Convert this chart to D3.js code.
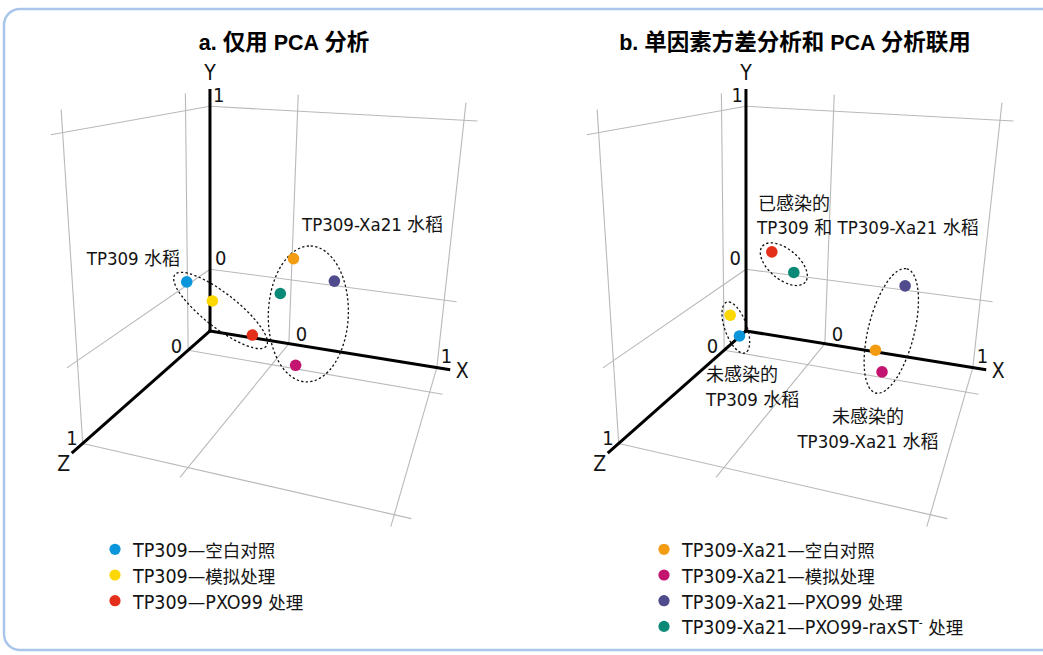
<!DOCTYPE html>
<html>
<head>
<meta charset="utf-8">
<script src="https://cdn.jsdelivr.net/npm/d3@7"></script>
<style>
  body { margin: 0; background: #fff; }
  svg { display: block; }
</style>
</head>
<body>
<script>
// seven samples, same order in both panels
const seriesNames = [
  "TP309—空白对照", "TP309—模拟处理", "TP309—PXO99 处理",
  "TP309-Xa21—空白对照", "TP309-Xa21—模拟处理", "TP309-Xa21—PXO99 处理",
  "TP309-Xa21—PXO99-raxST⁻ 处理"
];
const seriesColors = ["#0b96dc", "#fdd700", "#e42f1b", "#f39c11", "#c31470", "#4f4b8d", "#0a8a76"];

// a. PCA only  (x, y, z scores)
const pcaX = [-0.475, -0.252, -0.091, 0.268, 0.376, 0.466, 0.241];
const pcaY = [0.102, 0.058, -0.202, 0.381, -0.064, 0.256, 0.237];
const pcaZ = [0.2, 0.3, 0.1, 0.4, 0.6, 0.3, 0.5];

// b. ANOVA + PCA
const anovaX = [-0.253, -0.252, -0.158, 0.545, 0.640, 0.634, 0.025];
const anovaY = [-0.098, 0.059, 0.308, -0.055, -0.054, 0.216, 0.249];
const anovaZ = [0.4, 0.5, 0.2, 0.4, 0.6, 0.2, 0.3];

const tickValues = [0, 1];
const titles = ["a. 仅用 PCA 分析", "b. 单因素方差分析和 PCA 分析联用"];

// groups circled in each panel
const pcaGroups = [[0, 1, 2], [3, 4, 5, 6]];
const anovaGroups = [[2, 6], [0, 1], [3, 4, 5]];

const W = 1043, H = 655;
const latinFont = "'Liberation Sans Narrow','Arial Narrow','DejaVu Sans Condensed',sans-serif";
const cjkFont = "'Noto Sans CJK SC',sans-serif";
const titleFont = "'Liberation Sans',Arial,sans-serif";
const ink = "#141414";

const svg = d3.select("body").append("svg")
  .attr("width", W)
  .attr("height", H);

svg.append("rect")
  .attr("x", 4).attr("y", 9)
  .attr("width", 1100).attr("height", 641)
  .attr("rx", 16)
  .attr("fill", "none")
  .attr("stroke", "#a9c5ea")
  .attr("stroke-width", 2.5);

// perspective camera
const rad = Math.PI / 180;
const cam = { f: 713, cx: 263, cy: 280, yaw: 19.1, pitch: 18.4, roll: -1.4, corner: [-0.3433, 0.3304, 4.621] };
const ya = cam.yaw * rad, pe = cam.pitch * rad, ro = cam.roll * rad;
const R0 = [Math.cos(ya), 0, -Math.sin(ya)];
const D0 = [Math.sin(ya) * Math.sin(pe), -Math.cos(pe), Math.cos(ya) * Math.sin(pe)];
const F0 = [-Math.sin(ya) * Math.cos(pe), -Math.sin(pe), -Math.cos(ya) * Math.cos(pe)];
const camRight = R0.map((v, i) => Math.cos(ro) * v + Math.sin(ro) * D0[i]);
const camDown = R0.map((v, i) => -Math.sin(ro) * v + Math.cos(ro) * D0[i]);
const dot3 = (u, v) => u[0] * v[0] + u[1] * v[1] + u[2] * v[2];

const lo = { x: -0.59, y: -0.42, z: -0.29 };
const hi = { x: 1.075, y: 1.09, z: 1.07 };

const xs = d3.scaleLinear().domain([lo.x, 1]).range([0, 1.444]);
const ys = d3.scaleLinear().domain([lo.y, 1]).range([0, 1.42]);
const zs = d3.scaleLinear().domain([lo.z, 1]).range([0, 1.4705]);

function project(x, y, z) {
  const p = [xs(x), ys(y), zs(z)];
  const cx = cam.corner[0] + dot3(camRight, p);
  const cy = cam.corner[1] + dot3(camDown, p);
  const cz = cam.corner[2] + dot3(F0, p);
  return [cam.cx + cam.f * cx / cz, cam.cy + cam.f * cy / cz];
}

// mixed latin / chinese text
function rich(sel, str, latinSize, cjkSize, fam) {
  const parts = str.match(/[\u2E80-\u9FFF]+|⁻|[^\u2E80-\u9FFF⁻]+/g);
  let raised = false;
  parts.forEach(p => {
    const t = sel.append("tspan");
    if (raised) { t.attr("dy", 7); raised = false; }
    if (p === "⁻") {
      t.text("-").attr("dy", -7).style("font-family", latinFont).style("font-size", "12px");
      raised = true;
    } else if (/[\u2E80-\u9FFF]/.test(p)) {
      t.text(p).style("font-family", cjkFont).style("font-size", cjkSize + "px");
    } else {
      t.text(p).style("font-family", fam || latinFont).style("font-size", latinSize + "px");
    }
  });
}

function gridSegments() {
  const segs = [];
  tickValues.forEach(t => {
    // back wall
    segs.push([[lo.x, t, lo.z], [hi.x, t, lo.z]]);
    segs.push([[t, lo.y, lo.z], [t, hi.y, lo.z]]);
    // left wall
    segs.push([[lo.x, t, lo.z], [lo.x, t, hi.z]]);
    segs.push([[lo.x, lo.y, t], [lo.x, hi.y, t]]);
    // floor
    segs.push([[lo.x, lo.y, t], [hi.x, lo.y, t]]);
    segs.push([[t, lo.y, lo.z], [t, lo.y, hi.z]]);
  });
  return segs;
}

function drawPanel(g, X, Y, Z, groups, ellipses, tickSide) {
  // grid
  g.selectAll(".grid")
    .data(gridSegments())
    .enter().append("line")
    .attr("class", "grid")
    .attr("x1", d => project(...d[0])[0])
    .attr("y1", d => project(...d[0])[1])
    .attr("x2", d => project(...d[1])[0])
    .attr("y2", d => project(...d[1])[1])
    .attr("stroke", "#b9b9b9")
    .attr("stroke-width", 1.1);

  // axes
  const origin = [lo.x, lo.y, lo.z];
  const axes = [
    { name: "X", end: [hi.x, lo.y, lo.z], dx: 7, dy: 8, anchor: "start" },
    { name: "Y", end: [lo.x, hi.y, lo.z], dx: 0, dy: -10, anchor: "middle" },
    { name: "Z", end: [lo.x, lo.y, hi.z], dx: -9, dy: 19, anchor: "middle" }
  ];
  axes.forEach(a => {
    const p0 = project(...origin), p1 = project(...a.end);
    g.append("line")
      .attr("x1", p0[0]).attr("y1", p0[1])
      .attr("x2", p1[0]).attr("y2", p1[1])
      .attr("stroke", "#000")
      .attr("stroke-width", 3)
      .attr("stroke-linecap", "square");
    g.append("text")
      .attr("x", p1[0] + a.dx).attr("y", p1[1] + a.dy)
      .attr("text-anchor", a.anchor)
      .attr("fill", ink)
      .style("font-family", latinFont).style("font-size", "21px")
      .text(a.name);
  });

  // tick labels
  tickValues.forEach((t, i) => {
    const px = project(t, lo.y, lo.z);
    g.append("text")
      .attr("x", px[0] + (i ? 4 : 7)).attr("y", px[1] - (i ? 5 : 3))
      .attr("fill", ink)
      .style("font-family", latinFont).style("font-size", "20px")
      .text(t);
    const pz = project(lo.x, lo.y, t);
    g.append("text")
      .attr("x", pz[0] - (i ? 5 : 6)).attr("y", pz[1] + (i ? 2 : 3))
      .attr("text-anchor", "end")
      .attr("fill", ink)
      .style("font-family", latinFont).style("font-size", "20px")
      .text(t);
    const py = project(lo.x, t, lo.z);
    g.append("text")
      .attr("x", py[0] + tickSide * (i ? 3 : 5)).attr("y", py[1] - 4)
      .attr("text-anchor", tickSide > 0 ? "start" : "end")
      .attr("fill", ink)
      .style("font-family", latinFont).style("font-size", "20px")
      .text(t);
  });

  // ellipses round the groups
  groups.forEach((m, gi) => {
    const pts = m.map(i => project(X[i], Y[i], Z[i]));
    const ex = d3.extent(pts, p => p[0]), ey = d3.extent(pts, p => p[1]);
    const e = ellipses[gi];
    g.append("ellipse")
      .attr("transform", `translate(${(ex[0] + ex[1]) / 2 + 1},${(ey[0] + ey[1]) / 2 + 2}) rotate(${e.angle})`)
      .attr("rx", e.a).attr("ry", e.b)
      .attr("fill", "none")
      .attr("stroke", "#111")
      .attr("stroke-width", 1.3)
      .attr("stroke-dasharray", "2.3,2.3");
  });

  // points
  g.selectAll(".pt")
    .data(X.map((x, i) => ({ x: x, y: Y[i], z: Z[i], c: seriesColors[i] })))
    .enter().append("circle")
    .attr("class", "pt")
    .attr("cx", d => project(d.x, d.y, d.z)[0])
    .attr("cy", d => project(d.x, d.y, d.z)[1])
    .attr("r", 5.8)
    .attr("fill", d => d.c);
}

const panelA = svg.append("g");
const panelB = svg.append("g").attr("transform", "translate(536,0)");

drawPanel(panelA, pcaX, pcaY, pcaZ, pcaGroups,
  [{ a: 58, b: 17, angle: 38 }, { a: 68, b: 40, angle: -88 }], 1);
drawPanel(panelB, anovaX, anovaY, anovaZ, anovaGroups,
  [{ a: 28, b: 15, angle: 40 }, { a: 27, b: 11, angle: 70 }, { a: 64, b: 23, angle: -76 }], -1);

// titles
[[panelA, 284], [panelB, 259]].forEach(([g, cx], i) => {
  const t = g.append("text")
    .attr("x", cx).attr("y", 50)
    .attr("text-anchor", "middle")
    .attr("fill", "#000")
    .style("font-weight", "bold");
  rich(t, titles[i], 21.5, 22.5, titleFont);
});

// group notes
function note(g, x, y, anchor, str) {
  const t = g.append("text").attr("x", x).attr("y", y)
    .attr("text-anchor", anchor).attr("fill", ink);
  rich(t, str, 18.5, 18);
}
note(panelA, 180, 265, "end", "TP309 水稻");
note(panelA, 302, 231, "start", "TP309-Xa21 水稻");
note(panelB, 222, 210, "start", "已感染的");
note(panelB, 221, 234, "start", "TP309 和 TP309-Xa21 水稻");
note(panelB, 170, 381, "start", "未感染的");
note(panelB, 170, 406, "start", "TP309 水稻");
note(panelB, 332, 423, "middle", "未感染的");
note(panelB, 332, 448, "middle", "TP309-Xa21 水稻");

// legends
const legendSplit = [[0, 1, 2], [3, 4, 5, 6]];
[[panelA, 115], [panelB, 128]].forEach(([g, lx], li) => {
  const rows = g.selectAll(".leg")
    .data(legendSplit[li])
    .enter().append("g")
    .attr("class", "leg")
    .attr("transform", (d, i) => `translate(${lx},${549.3 + i * 25.7})`);
  rows.append("circle")
    .attr("r", 5.6)
    .attr("fill", d => seriesColors[d]);
  rows.append("text")
    .attr("x", 18).attr("y", 8)
    .attr("fill", ink)
    .each(function (d) { rich(d3.select(this), seriesNames[d], 19.5, 17.5); });
});
</script>
</body>
</html>
